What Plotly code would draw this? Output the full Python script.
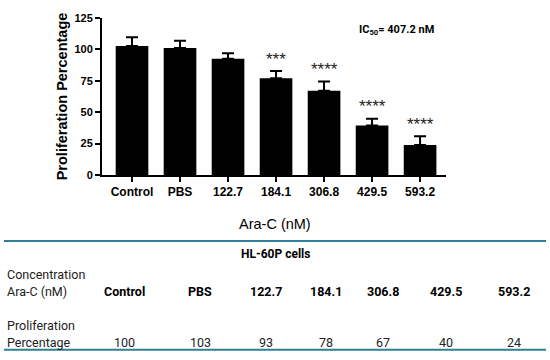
import plotly.graph_objects as go

categories = ["Control", "PBS", "122.7", "184.1", "306.8", "429.5", "593.2"]
means = [102.7, 101.2, 92.6, 77.1, 67.0, 39.4, 23.8]
err_top = [109.7, 106.9, 97.0, 82.8, 74.5, 44.8, 30.8]
stars = ["", "", "", "***", "****", "****", "****"]
table_values = ["100", "103", "93", "78", "67", "40", "24"]

W, H = 550, 360
L, R, T, B = 102, 446, 14, 175

def px(x):
    return (x - L) / (R - L)

def py(y):
    return (B - y) / (B - T)

fig = go.Figure()
fig.add_trace(go.Bar(
    x=list(range(len(categories))), y=means, width=0.68,
    marker=dict(color="black", line=dict(width=0)),
    error_y=dict(type="data", symmetric=False,
                 array=[e - m for e, m in zip(err_top, means)],
                 arrayminus=[0] * len(means),
                 color="black", thickness=2, width=6),
))

ann = []
for i, s in enumerate(stars):
    if s:
        ann.append(dict(x=i, y=err_top[i], xref="x", yref="y", text=s,
                        showarrow=False, yshift=12, xanchor="center", yanchor="middle",
                        font=dict(family="Arial, Liberation Sans", size=17, color="#222")))

def txt(x, y, text, font, xanchor="center"):
    ann.append(dict(x=px(x), y=py(y), xref="paper", yref="paper", text=text,
                    showarrow=False, xanchor=xanchor, yanchor="middle", font=font))

txt(396, 26, "<b>IC<sub>50</sub>= 407.2 nM</b>", dict(family="Roboto", size=11, color="black"))
txt(275, 225, "Ara-C (nM)", dict(family="Arial, Liberation Sans", size=14.5, color="black"))
txt(275, 256, "<b>HL-60P cells</b>", dict(family="Roboto", size=12, color="black"))
tf = dict(family="Roboto", size=12.5, color="#222")
for t, yy in [("Concentration", 277.5), ("Ara-C (nM)", 294.5), ("Proliferation", 329), ("Percentage", 346.5)]:
    txt(5, yy, t, tf, xanchor="left")
col_x = [124, 200, 265.5, 325.5, 382.5, 446, 513.5]
for cx, c, v in zip(col_x, categories, table_values):
    txt(cx, 294.5, "<b>" + c + "</b>", dict(family="Roboto", size=12.5, color="black"))
    txt(cx, 346.5, v, tf)

shapes = []
for yy in [242.7, 354.3]:
    shapes.append(dict(type="line", xref="paper", yref="paper",
                       x0=px(4), x1=px(546), y0=py(yy), y1=py(yy),
                       line=dict(color="#2f7f95", width=2)))

fig.update_layout(
    width=W, height=H, margin=dict(l=L, r=W - R, t=T, b=H - B, pad=0),
    paper_bgcolor="white", plot_bgcolor="white", showlegend=False,
    annotations=ann, shapes=shapes,
    xaxis=dict(range=[-0.625, 6.54], tickmode="array", tickvals=list(range(len(categories))),
               ticktext=["<b>" + c + "</b>" for c in categories],
               showline=True, linecolor="black", linewidth=2, ticks="outside",
               ticklen=5, tickwidth=2, tickcolor="black", showgrid=False, zeroline=False,
               tickfont=dict(family="Arial, Liberation Sans", size=12, color="black")),
    yaxis=dict(range=[0, 125], tickvals=[0, 25, 50, 75, 100, 125],
               ticktext=["<b>%d</b>" % v for v in [0, 25, 50, 75, 100, 125]],
               showline=True, linecolor="black", linewidth=2, ticks="outside",
               ticklen=5, tickwidth=2, tickcolor="black", showgrid=False, zeroline=False,
               tickfont=dict(family="Arial, Liberation Sans", size=11, color="black"),
               title=dict(text="<b>Proliferation Percentage</b>", standoff=3,
                          font=dict(family="Arial, Liberation Sans", size=14.5, color="black"))),
)

fig.write_html("out.html", config={"displayModeBar": False},
               post_script="document.body.style.margin='0';document.body.style.overflow='hidden';")
